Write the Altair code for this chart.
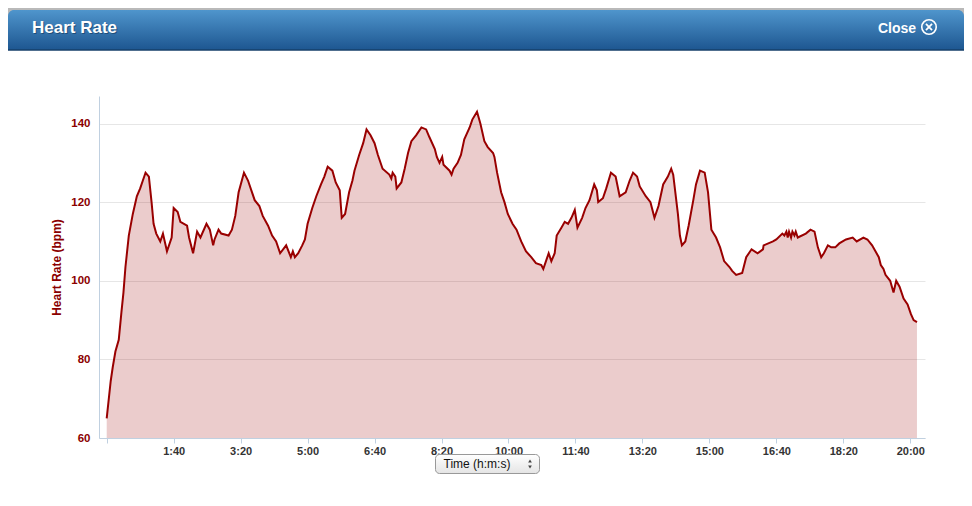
import altair as alt
import pandas as pd

# ---- data (seconds, bpm) ----
times = [0, 6, 9, 13, 18, 22, 25, 28, 33, 39,
         45, 50, 54, 58, 63, 67, 70, 74, 80, 84,
         90, 97, 100, 106, 110, 120, 123, 129, 135, 140,
         149, 154, 159, 161, 167, 171, 182, 187, 192, 197,
         205, 211, 216, 221, 228, 233, 241, 247, 253, 259,
         268, 275, 278, 281, 286, 292, 296, 300, 307, 313,
         320, 325, 330, 337, 342, 348, 351, 356, 362, 367,
         370, 377, 383, 388, 394, 400, 405, 412, 422, 425,
         427, 431, 433, 440, 445, 450, 455, 462, 470, 477,
         482, 490, 493, 497, 501, 503, 512, 515, 518, 524,
         529, 534, 542, 546, 553, 558, 564, 569, 577, 579,
         583, 589, 594, 599, 606, 612, 619, 626, 634, 641,
         649, 652, 656, 660, 664, 669, 672, 679, 684, 689,
         694, 699, 703, 710, 715, 721, 728, 732, 734, 741,
         746, 753, 760, 766, 775, 781, 786, 792, 796, 805,
         812, 818, 824, 831, 838, 843, 846, 853, 856, 859,
         864, 869, 876, 880, 886, 893, 898, 903, 910, 916,
         922, 930, 934, 940, 949, 955, 963, 972, 980, 981,
         995, 1000, 1009, 1012, 1015, 1017, 1019, 1022, 1024, 1027,
         1029, 1032, 1044, 1051, 1057, 1062, 1067, 1071, 1077, 1082,
         1088, 1094, 1104, 1114, 1120, 1130, 1136, 1143, 1148, 1153,
         1156, 1160, 1163, 1170, 1175, 1179, 1184, 1190, 1196, 1201,
         1205, 1210]

bpm = [65, 74.5, 78, 82, 85, 92, 97, 103.5, 111.5, 117,
       121.5, 123.5, 125.5, 127.5, 126.5, 120, 114.5, 112, 110, 112,
       107.5, 111, 118.5, 117.5, 115, 114, 111, 107, 112.5, 111,
       114.5, 113, 109, 110.5, 113, 112, 111.5, 113, 116.5, 122.5,
       127.5, 125.5, 123, 120.5, 119, 116.5, 114, 111.5, 110, 107,
       109, 106, 107.5, 106, 107, 109, 110.5, 114.5, 118.5, 121.5,
       124.5, 126.5, 129, 128, 125, 123, 116, 117, 122.5, 125.5,
       128, 132, 135, 138.5, 137, 135, 132, 128.5, 127, 126,
       127.5, 126.5, 123.5, 125, 128.5, 132.5, 135.5, 137, 139, 138.5,
       136.5, 133.5, 131.5, 130, 131.5, 129.5, 128, 127, 128.5, 130,
       132, 136, 139, 141, 143, 140, 135.5, 134, 132.5, 131.5,
       127.5, 122.5, 120, 117, 114.5, 113, 110, 107.5, 106, 104.5,
       104, 103, 105, 107, 105, 107, 111.5, 113.5, 115, 114.5,
       116, 118, 113.5, 116, 118.5, 120.5, 124.5, 123, 120, 121,
       123.5, 127.5, 126.5, 121.5, 122.5, 125.5, 127.5, 126.5, 124, 121.5,
       120, 116, 119, 124.5, 126.5, 128.5, 127, 117, 111.5, 109,
       110, 114, 120.5, 124.5, 128, 127.5, 122.5, 113, 111, 108.5,
       105, 103.5, 102.5, 101.5, 102, 106, 108, 107, 108, 109,
       110, 110.5, 112, 111.5, 112.5, 111, 112.5, 111, 112.5, 111.5,
       112.5, 111, 112, 113, 112.5, 108.5, 106, 107, 109, 108.5,
       108.5, 109.5, 110.5, 111, 110, 111, 110.5, 109, 107.5, 106,
       104, 103, 101.5, 100, 97, 100, 98.5, 95.5, 94, 91.5,
       90, 89.5]

tick_seconds = [0, 100, 200, 300, 400, 500, 600, 700, 800, 900, 1000, 1100, 1200]
bpm_ticks = [60, 80, 100, 120, 140]

dialog_title = ["Heart Rate"]
close_label = ["Close"]
x_selector = ["Time (h:m:s)"]

df = pd.DataFrame({"t": times, "hr": bpm})
one = pd.DataFrame({"k": [0]})

W, H = 826, 342
FONT = "Liberation Sans"
RED = "#990000"

x_enc = alt.X(
    "t:Q",
    scale=alt.Scale(domain=[-11.5, 1222], nice=False, zero=False),
    axis=alt.Axis(
        values=tick_seconds,
        labelExpr="datum.value == 0 ? '' : floor(datum.value / 60) + ':' + (datum.value % 60 < 10 ? '0' : '') + (datum.value % 60)",
        title="",
        grid=False,
        domainColor="#c0d0e0",
        tickColor="#c0d0e0",
        tickSize=5,
        labelPadding=2,
        labelFont=FONT,
        labelFontSize=11,
        labelFontWeight="bold",
        labelColor="#333333",
        labelFlush=False,
    ),
)
y_enc = alt.Y(
    "hr:Q",
    scale=alt.Scale(domain=[60, 147], nice=False, zero=False),
    axis=alt.Axis(
        values=bpm_ticks,
        grid=True,
        gridColor="#e6e6e6",
        domainColor="#c0d0e0",
        ticks=False,
        labelPadding=9,
        labelFont=FONT,
        labelFontSize=11.5,
        labelFontWeight="bold",
        labelColor="#8b0000",
        title="Heart Rate (bpm)",
        titleFont=FONT,
        titleFontSize=12,
        titleFontWeight="bold",
        titleColor="#8b0000",
        titlePadding=7,
    ),
)

area = alt.Chart(df).mark_area(color=RED, opacity=0.2).encode(
    x=x_enc, y=y_enc, y2=alt.datum(60)
)
line = alt.Chart(df).mark_line(color=RED, strokeWidth=2).encode(x=x_enc, y=y_enc)

# ---- dialog chrome ----
top_strip = alt.Chart(one).mark_rect(fill="#b9b9b9").encode(
    x=alt.value(-91), x2=alt.value(865), y=alt.value(-88), y2=alt.value(-76)
)
header = alt.Chart(one).mark_rect(
    fill=alt.LinearGradient(
        gradient="linear", x1=0, x2=0, y1=0, y2=1,
        stops=[alt.GradientStop(offset=0, color="#4f95cc"),
               alt.GradientStop(offset=1, color="#1d5690")],
    ),
    cornerRadiusTopLeft=6,
    cornerRadiusTopRight=6,
).encode(x=alt.value(-91), x2=alt.value(865), y=alt.value(-86), y2=alt.value(-46))
header_line = alt.Chart(one).mark_rule(color="#163f6a", strokeWidth=1.5).encode(
    x=alt.value(-91), x2=alt.value(865), y=alt.value(-46)
)

title_df = pd.DataFrame({"label": dialog_title})
title_shadow = alt.Chart(title_df).mark_text(
    align="left", baseline="alphabetic", font=FONT, fontSize=17, fontWeight="bold",
    color="#173f66", opacity=0.7
).encode(x=alt.value(-66), y=alt.value(-62.5), text="label:N")
title_txt = alt.Chart(title_df).mark_text(
    align="left", baseline="alphabetic", font=FONT, fontSize=17, fontWeight="bold",
    color="white"
).encode(x=alt.value(-67), y=alt.value(-63.5), text="label:N")

close_txt = alt.Chart(pd.DataFrame({"label": close_label})).mark_text(
    align="right", baseline="alphabetic", font=FONT, fontSize=14, fontWeight="bold",
    color="white"
).encode(x=alt.value(817), y=alt.value(-63), text="label:N")
close_circle = alt.Chart(one).mark_point(
    shape="circle", filled=False, stroke="white", strokeWidth=1.6, size=210, opacity=1
).encode(x=alt.value(830), y=alt.value(-69))
close_x = alt.Chart(one).mark_point(
    shape="M-0.42,-0.42L0.42,0.42M0.42,-0.42L-0.42,0.42", filled=False,
    stroke="white", strokeWidth=1.8, size=210, opacity=1
).encode(x=alt.value(830), y=alt.value(-69))

sel_box = alt.Chart(one).mark_rect(
    fill=alt.LinearGradient(
        gradient="linear", x1=0, x2=0, y1=0, y2=1,
        stops=[alt.GradientStop(offset=0, color="#ffffff"),
               alt.GradientStop(offset=1, color="#e4e4e4")],
    ),
    stroke="#999999", strokeWidth=1, cornerRadius=4,
).encode(x=alt.value(336.5), x2=alt.value(440.5), y=alt.value(358.5), y2=alt.value(377.5))
sel_txt = alt.Chart(pd.DataFrame({"label": x_selector})).mark_text(
    align="left", baseline="alphabetic", font=FONT, fontSize=12, color="#111111"
).encode(x=alt.value(344.5), y=alt.value(372), text="label:N")
sel_up = alt.Chart(one).mark_point(
    shape="triangle-up", filled=True, color="#444444", size=14, opacity=1
).encode(x=alt.value(431), y=alt.value(365))
sel_down = alt.Chart(one).mark_point(
    shape="triangle-down", filled=True, color="#444444", size=14, opacity=1
).encode(x=alt.value(431), y=alt.value(371))

chart = alt.layer(
    area, line,
    top_strip, header, header_line, title_shadow, title_txt,
    close_txt, close_circle, close_x,
    sel_box, sel_txt, sel_up, sel_down,
).properties(
    width=W, height=H,
    autosize=alt.AutoSizeParams(type="none"),
    padding={"left": 91, "top": 88, "right": 39, "bottom": 60},
    background="white",
).configure_view(strokeWidth=0)

chart.save("out.html", embed_options={"renderer": "svg", "actions": False})
